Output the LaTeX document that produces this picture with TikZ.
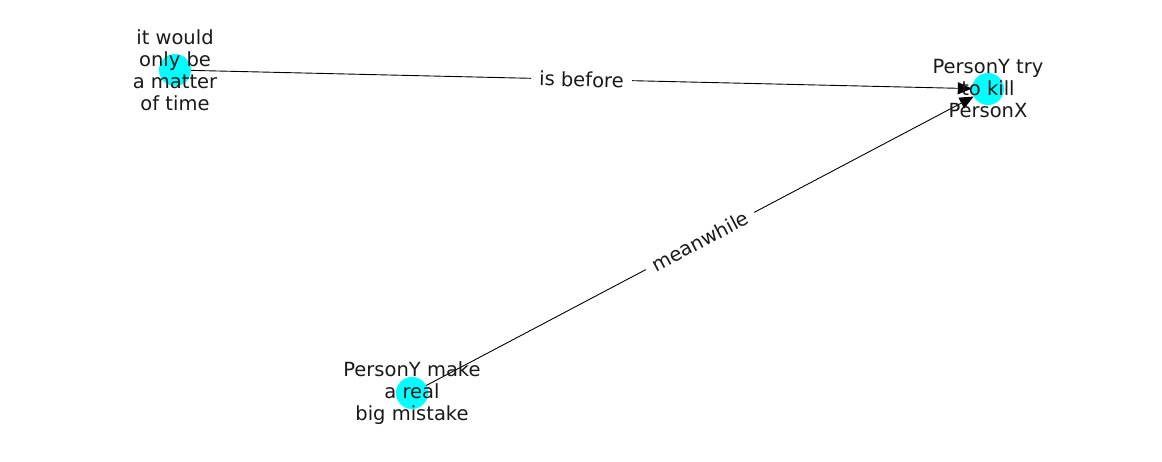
\documentclass[tikz,border=0pt]{standalone}
\usepackage{fontspec}
\setmainfont{DejaVu Sans}
\usetikzlibrary{arrows.meta}
\definecolor{aqua}{RGB}{0,255,255}

\begin{document}
\begin{tikzpicture}[
    x=1pt, y=-1pt,
    vertex/.style={circle, fill=aqua, minimum size=32pt, inner sep=0pt},
    caption/.style={align=center, font=\fontsize{19.5}{22}\selectfont, text=black!90, inner sep=0pt},
    rel/.style={fill=white, sloped, inner xsep=8pt, inner ysep=2pt, text=black!90, font=\fontsize{19.5}{22}\selectfont},
    arrow/.style={-{Triangle[length=14pt, width=12pt]}, line width=0.9pt}
]
    \useasboundingbox (0,0) rectangle (1162,462);

    % Vertices
    \node[vertex] (time) at (175,70) {};
    \node[vertex] (kill) at (988,89) {};
    \node[vertex] (mistake) at (412,393) {};

    % Relations
    \draw[arrow] (time) -- node[rel] {is before} (kill);
    \draw[arrow] (mistake) -- node[rel] {meanwhile} (kill);

    % Captions on top
    \node[caption] (timetxt) at (time.center) {it would\\only be\\a matter\\of time};
    \node[caption] (killtxt) at (kill.center) {PersonY try\\to kill\\PersonX};
    \node[caption] (mistaketxt) at (mistake.center) {PersonY make\\a real\\big mistake};
\end{tikzpicture}
\end{document}
